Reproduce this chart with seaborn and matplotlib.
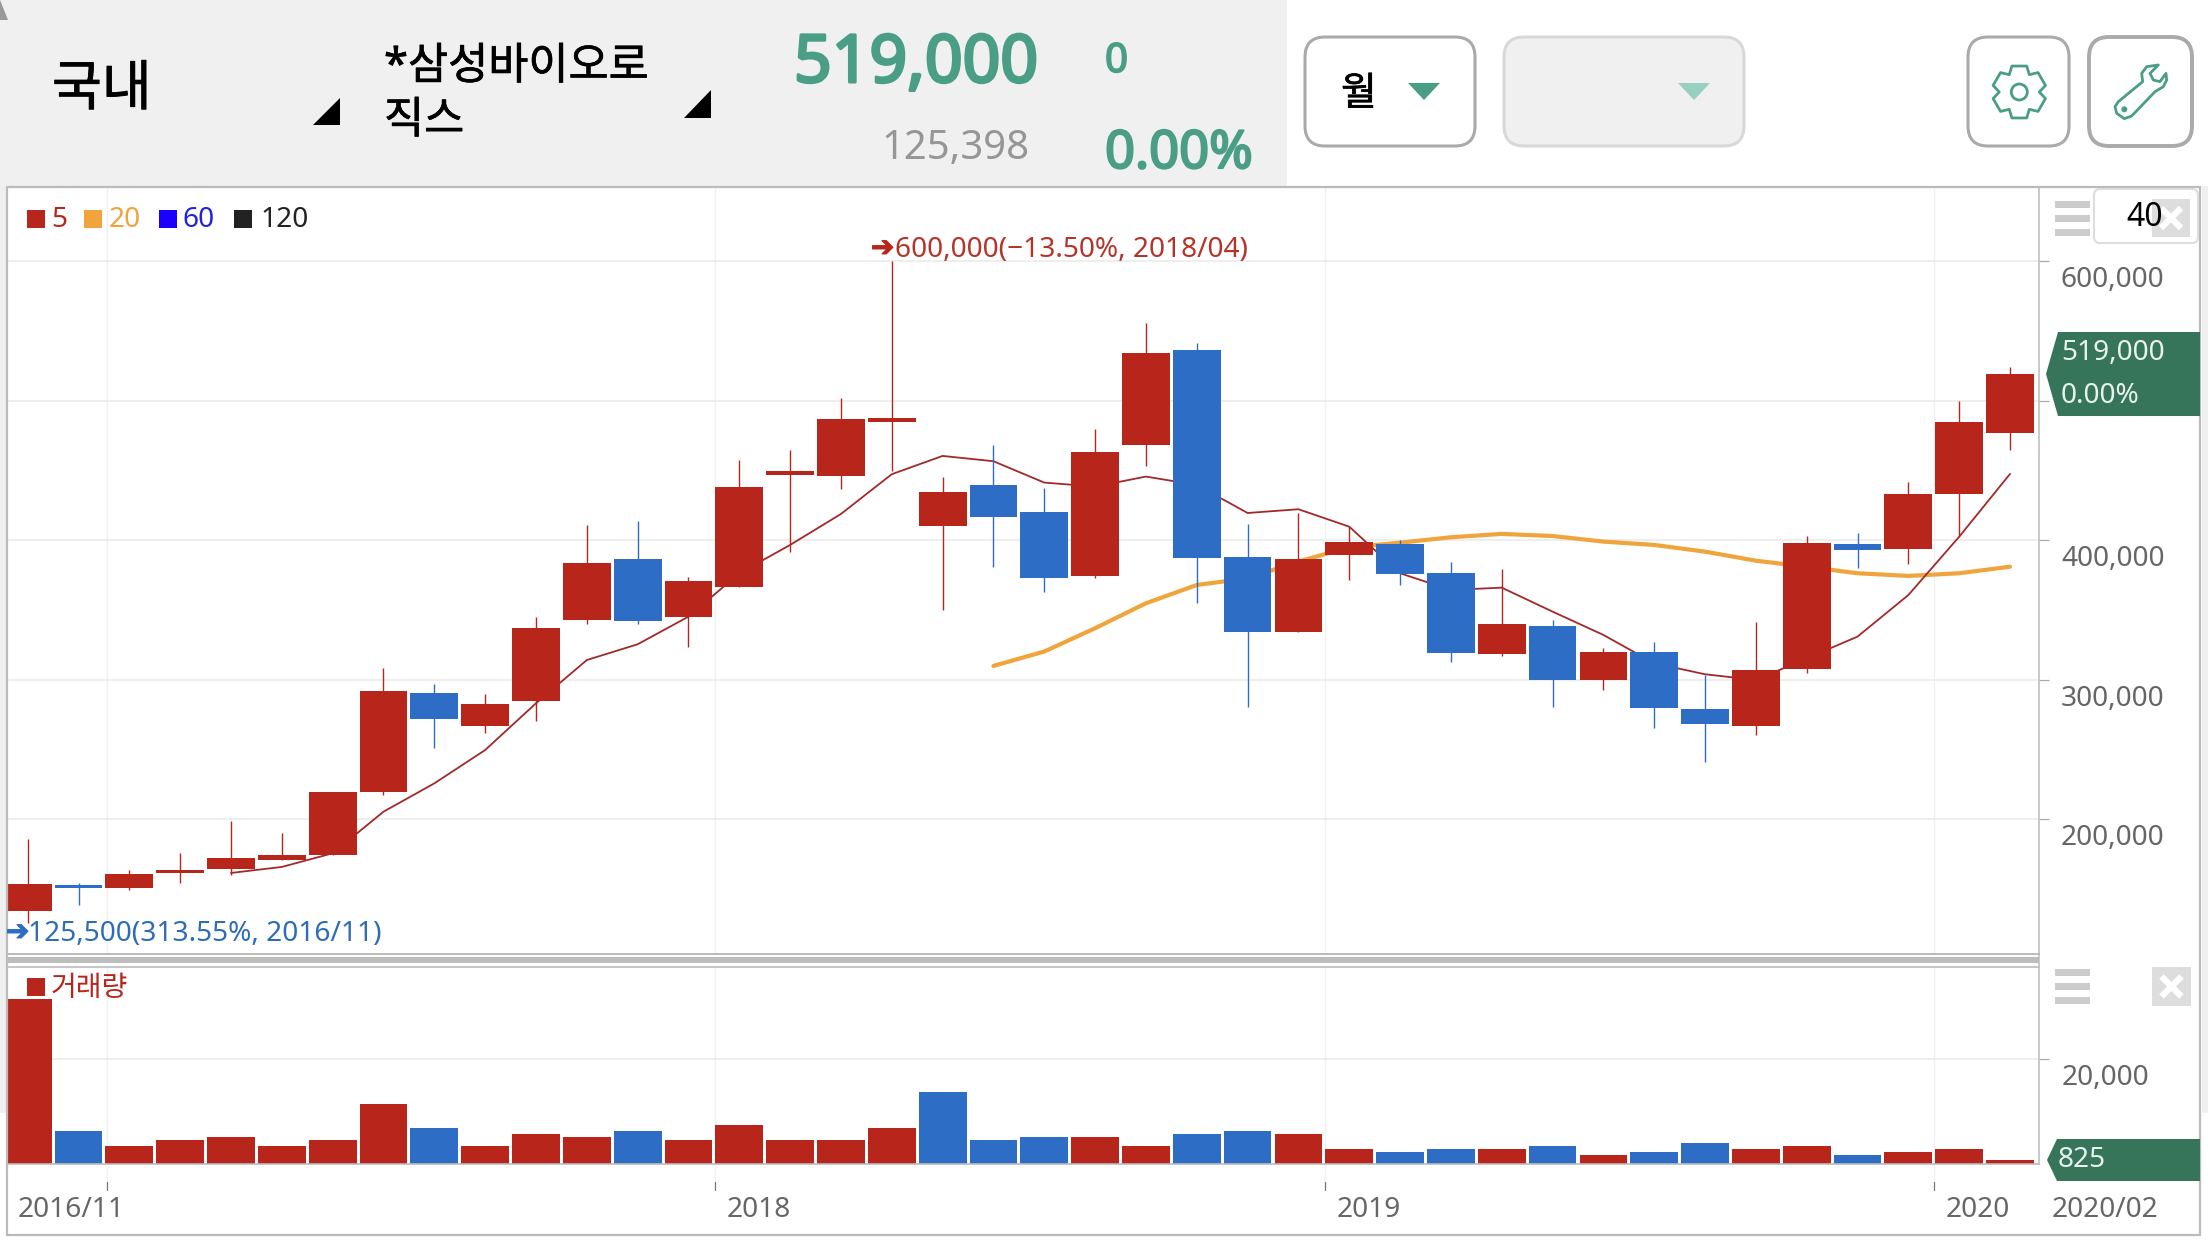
import math

import matplotlib
matplotlib.use("Agg")
import matplotlib.patheffects as pe
import matplotlib.pyplot as plt
import pandas as pd
import seaborn as sns
from matplotlib.patches import FancyBboxPatch, Polygon, Rectangle, Circle

# monthly candles, 2016/11 .. 2020/02
candle_open = [134600, 153000, 150800, 161600, 164400, 170900, 174700, 219600, 290600, 266900,
               284800, 342900, 386600, 345000, 366800, 446900, 446400, 484900, 410600, 439700,
               420400, 374500, 468400, 536500, 388100, 334400, 389500, 397400, 376600, 318500,
               338600, 299900, 320000, 279100, 267000, 307800, 397400, 393800, 433200, 476900]
candle_close = [153700, 150800, 160900, 163700, 172300, 174200, 219600, 292000, 271900, 282700,
                337200, 383700, 342200, 370800, 438300, 449700, 487000, 487700, 434700, 417000,
                373100, 463400, 534300, 387400, 334400, 386700, 398900, 375900, 319300, 340100,
                299900, 320000, 279900, 268400, 307100, 398100, 393100, 433200, 484800, 519000]
candle_high = [185700, 154200, 163700, 175700, 198600, 190200, 219600, 308300, 297000, 289900,
               345000, 411000, 413800, 373500, 457600, 464800, 501800, 600000, 445400, 468400,
               437600, 479800, 555800, 541500, 411800, 419600, 409800, 400000, 384500, 379500,
               342900, 322800, 327100, 303500, 341500, 403100, 405300, 441800, 499900, 524200]
candle_low = [125500, 138600, 149400, 154600, 160100, 170900, 174700, 217500, 251200, 261900,
              270500, 340000, 340000, 323500, 366800, 391700, 436800, 449700, 350100, 381000,
              363000, 373100, 453300, 355100, 280500, 334400, 371600, 368000, 312800, 317100,
              280600, 292800, 265500, 241100, 260500, 304900, 380200, 383100, 403100, 464800]

ma5_start = 4
ma5 = [161600, 165900, 175700, 205500, 225800, 249700, 283200, 314200, 325500, 345300,
       376400, 396700, 418900, 447400, 460500, 456700, 441400, 438500, 445700, 439700,
       419600, 422300, 409800, 376400, 364400, 366100, 348900, 332200, 311900, 304000,
       299900, 315400, 331000, 360800, 402600, 447600]
ma20_start = 19
ma20 = [310000, 320300, 337000, 354900, 368000, 372800, 384800, 395000, 398300, 402200,
        404600, 403100, 399100, 396700, 391900, 385400, 381100, 376400, 374500, 376400, 381100]

volume = [31500, 6300, 3440, 4580, 5160, 3440, 4580, 11460, 6880, 3440,
          5730, 5160, 6300, 4580, 7450, 4580, 4580, 6880, 13750, 4580,
          5160, 5160, 3440, 5730, 6300, 5730, 2870, 2290, 2870, 2870,
          3440, 1720, 2290, 4010, 2870, 3440, 1720, 2290, 2870, 825]
volume_dir = ["up", "down", "up", "up", "up", "up", "up", "up", "down", "up",
              "up", "up", "down", "up", "up", "up", "up", "up", "down", "down",
              "down", "up", "up", "down", "down", "up", "up", "down", "down", "up",
              "down", "up", "down", "down", "up", "up", "down", "up", "up", "up"]

price_ticks = [200000, 300000, 400000, 500000, 600000]
price_labels = ["200,000", "300,000", "400,000", None, "600,000"]
date_ticks = [1.57, 13.52, 25.52, 37.5]
date_labels = [None, "2018", "2019", "2020"]

RED = "#b8261b"
BLUE = "#2e6dc6"
ORANGE = "#efa43c"
MA5_COLOR = "#a3282a"
TEAL = "#4a9e86"
TAG = "#36755a"
AXIS_TEXT = "#666666"
LINE = "#bbbbbb"
GRID = "#e9e9e9"
PX = 0.72  # points per pixel at dpi 100
TEXT_PT = 20.2
BAR_WIDTH = 0.94

W, H = 2208, 1242
sns.set_theme(style="white")
plt.rcParams["font.family"] = ["Noto Sans", "Noto Sans CJK KR", "DejaVu Sans"]

fig = plt.figure(figsize=(W / 100, H / 100), dpi=100, facecolor="white")


def pixel_axes(left, top, right, bottom):
    return fig.add_axes([left / W, 1 - bottom / H, (right - left) / W, (bottom - top) / H])


price_ax = pixel_axes(7, 187, 2039, 954)
vol_ax = pixel_axes(7, 967, 2039, 1164)
xmin, xmax = -0.407, 39.57

# --- price panel ---
idx = list(range(len(candle_open)))
ma5_df = pd.DataFrame({"x": idx[ma5_start:], "y": ma5})
ma20_df = pd.DataFrame({"x": idx[ma20_start:], "y": ma20})
sns.lineplot(data=ma20_df, x="x", y="y", color=ORANGE, lw=3.0, ax=price_ax, zorder=2)
sns.lineplot(data=ma5_df, x="x", y="y", color=MA5_COLOR, lw=1.3, ax=price_ax, zorder=2.1)

candle_colors = [RED if c >= o else BLUE for o, c in zip(candle_open, candle_close)]
price_ax.vlines(idx, candle_low, candle_high, colors=candle_colors, lw=1.0, zorder=3)
# seaborn's style forces white patch edges, so switch them off on the bars
price_ax.bar(idx, [abs(c - o) for o, c in zip(candle_open, candle_close)],
             bottom=[min(o, c) for o, c in zip(candle_open, candle_close)],
             width=BAR_WIDTH, color=candle_colors, edgecolor="none", linewidth=0, zorder=3.1)

price_ax.set_xlim(xmin, xmax)
price_ax.set_ylim(103500, 653260)
price_ax.set_yticks(price_ticks)
price_ax.set_xlabel("")
price_ax.set_ylabel("")

# --- volume panel ---
vol_df = pd.DataFrame({"x": idx, "volume": volume, "dir": volume_dir})
sns.barplot(data=vol_df, x="x", y="volume", hue="dir", palette={"up": RED, "down": BLUE},
            dodge=False, native_scale=True, width=BAR_WIDTH, saturation=1, legend=False,
            edgecolor="none", linewidth=0, ax=vol_ax)
vol_ax.set_xlim(xmin, xmax)
vol_ax.set_ylim(0, 37630)
vol_ax.set_yticks([20000])
vol_ax.set_xlabel("")
vol_ax.set_ylabel("")

for ax in (price_ax, vol_ax):
    ax.set_xticks(date_ticks)
    ax.set_axisbelow(True)
    ax.grid(True, axis="y", color=GRID, lw=1.1)
    ax.grid(True, axis="x", color="#f1f1f1", lw=1.0)
    ax.yaxis.tick_right()
    ax.tick_params(axis="x", length=0, labelbottom=False)
    ax.tick_params(axis="y", length=10 * PX, width=0.9, color="#aaaaaa", labelright=False)
    for spine in ax.spines.values():
        spine.set_visible(False)
    ax.spines["bottom"].set_visible(True)
    ax.spines["bottom"].set_color(LINE)
    ax.spines["bottom"].set_linewidth(1.2)

for value, label in zip(price_ticks, price_labels):
    if label:
        price_ax.annotate(label, xy=(1, value), xycoords=price_ax.get_yaxis_transform(),
                          xytext=(22 * PX, -26 * PX), textcoords="offset points",
                          fontsize=TEXT_PT, color=AXIS_TEXT, va="baseline")
vol_ax.annotate("20,000", xy=(1, 20000), xycoords=vol_ax.get_yaxis_transform(),
                xytext=(23 * PX, -26 * PX), textcoords="offset points",
                fontsize=TEXT_PT, color=AXIS_TEXT, va="baseline")

# date ticks sit below the volume panel, detached from the axis
trans = vol_ax.get_xaxis_transform()
for tick, label in zip(date_ticks, date_labels):
    vol_ax.plot([tick, tick], [0, -18 / 197], transform=trans, color="#f1f1f1", lw=1.0, clip_on=False)
    vol_ax.plot([tick, tick], [-18 / 197, -26 / 197], transform=trans, color="#777777", lw=0.9, clip_on=False)
    if label:
        vol_ax.annotate(label, xy=(tick, 0), xycoords=trans, xytext=(12 * PX, -53 * PX),
                        textcoords="offset points", fontsize=TEXT_PT, color=AXIS_TEXT, va="baseline")
vol_ax.annotate("2016/11", xy=(0, 0), xycoords="axes fraction", xytext=(11 * PX, -53 * PX),
                textcoords="offset points", fontsize=TEXT_PT, color=AXIS_TEXT, va="baseline")

# --- app chrome drawn on a full-figure pixel layer ---
ui = fig.add_axes([0, 0, 1, 1], zorder=5)
ui.set_xlim(0, W)
ui.set_ylim(H, 0)
ui.axis("off")


def put(x, y, s, size, color, heavy=0, **kw):
    t = ui.text(x, y, s, fontsize=size, color=color, va="baseline", **kw)
    if heavy:
        # no bold face is reliably installed, thicken the glyphs instead
        t.set_path_effects([pe.withStroke(linewidth=heavy, foreground=color)])
    return t


def rect(x0, y0, x1, y1, color, **kw):
    ui.add_patch(Rectangle((x0, y0), x1 - x0, y1 - y0, facecolor=color, edgecolor="none", linewidth=0, **kw))


def button(x0, x1, face, edge, lw=2.2):
    ui.add_patch(FancyBboxPatch((x0, 37), x1 - x0, 109, boxstyle="round,pad=0,rounding_size=20",
                                facecolor=face, edgecolor=edge, lw=lw))


def hamburger(y0):
    for k in range(3):
        rect(2055, y0 + 14 * k, 2090, y0 + 14 * k + 7, "#cccccc")


def close_box(x0, y0, x1, y1):
    rect(x0, y0, x1, y1, "#dddddd")
    cx, cy = (x0 + x1) / 2, (y0 + y1) / 2
    for sign in (1, -1):
        ui.plot([cx - 10, cx + 10], [cy - 10 * sign, cy + 10 * sign], color="white", lw=4.5, solid_capstyle="butt")


# header
rect(0, 0, 1287, 186, "#f0f0f0")
ui.add_patch(Polygon([(0, 0), (8, 20), (0, 20)], facecolor="#999999", edgecolor="none"))
rect(0, 186, 6, 1113, "#f0f0f0")
rect(2202, 186, W, 1113, "#f0f0f0")
put(52, 105, "국내", 39, "black", heavy=0.6)
ui.add_patch(Polygon([(313, 125), (340, 125), (340, 98)], facecolor="black", edgecolor="none"))
put(384, 79, "*삼성바이오로", 31.4, "black", heavy=0.5)
put(384, 133, "직스", 31.4, "black", heavy=0.5)
ui.add_patch(Polygon([(684, 118), (711, 118), (711, 90)], facecolor="black", edgecolor="none"))
put(794, 82, "519,000", 47.5, TEAL, heavy=2.2)
put(1105, 72, "0", 29, TEAL, heavy=1.2)
put(881, 159, "125,398", 28.8, "#969696")
put(1105, 168, "0.00%", 37.8, TEAL, heavy=1.6)

button(1305, 1475, "white", "#aaaaaa")
put(1341, 105, "월", 28, "black", heavy=0.5)
ui.add_patch(Polygon([(1408, 83), (1440, 83), (1424, 100)], facecolor=TEAL, edgecolor="none"))
button(1504, 1744, "#f0f0f0", "#d8d8d8")
ui.add_patch(Polygon([(1678, 83), (1710, 83), (1694, 100)], facecolor="#97d0c0", edgecolor="none"))
button(1968, 2069, "white", "#aaaaaa")
button(2089, 2192, "white", "#aaaaaa", lw=2.8)

# gear icon
gear = []
for tooth in range(6):
    a = 90 + 60 * tooth
    for offset, r in ((-30, 20), (-16, 27), (16, 27)):
        gear.append((2019.3 + r * math.cos(math.radians(a + offset)), 92 - r * math.sin(math.radians(a + offset))))
ui.add_patch(Polygon(gear, closed=True, fill=False, edgecolor=TEAL, lw=2, joinstyle="round"))
ui.add_patch(Circle((2019.3, 92), 8, fill=False, edgecolor=TEAL, lw=2))

# wrench icon
wrench = [(548, 155), (545, 130), (560, 110), (595, 105), (570, 130), (580, 150), (600, 155), (618, 130),
          (620, 150), (610, 170), (585, 185), (515, 258), (493, 266), (470, 250), (465, 230), (475, 215)]
ui.add_patch(Polygon([(1960 + zx / 3, 30 + zy / 3) for zx, zy in wrench], closed=True, fill=False,
                     edgecolor=TEAL, lw=2, joinstyle="round"))
ui.add_patch(Circle((1960 + 493 / 3, 30 + 238 / 3), 3, facecolor=TEAL, edgecolor="none"))

# chart frame and panel separator
ui.add_patch(Rectangle((7, 187), 2193, 1048, fill=False, edgecolor=LINE, lw=1.6))
ui.plot([2039, 2039], [187, 1164], color=LINE, lw=1.1)
ui.plot([7, 2039], [954, 954], color=LINE, lw=1.2)
rect(7, 957, 2039, 963, "#bdbdbd")
ui.plot([7, 2039], [966.5, 966.5], color=LINE, lw=1.2)

# moving average legend
for x0, swatch, tx, label, text_color in (
    (27, RED, 51, "5", RED),
    (84, ORANGE, 109, "20", ORANGE),
    (159, "#1a00ff", 183, "60", "#2222dd"),
    (234, "#222222", 260, "120", "#222222"),
):
    rect(x0, 210, x0 + 18, 228, swatch)
    put(tx, 227, label, TEXT_PT, text_color)

# extreme value notes
put(871, 256, "➔", 20, RED, heavy=0.8, family="DejaVu Sans")
put(895, 257, "600,000(−13.50%, 2018/04)", TEXT_PT, "#b5342a")
put(6, 940, "➔", 20, BLUE, heavy=0.8, family="DejaVu Sans")
put(28, 941, "125,500(313.55%, 2016/11)", TEXT_PT, "#2e6db5")

# panel controls
hamburger(201)
ui.add_patch(FancyBboxPatch((2094, 189), 104, 54, boxstyle="round,pad=0,rounding_size=6",
                            facecolor="white", edgecolor="#dddddd", lw=1.5))
close_box(2152, 199, 2190, 237)
put(2126, 226, "40", 23, "black")
hamburger(969)
close_box(2152, 967, 2191, 1006)

rect(27, 978, 45, 996, RED)
put(51, 996, "거래량", 20.2, RED)

# last value tags
ui.add_patch(Polygon([(2046, 374), (2058, 332), (2200, 332), (2200, 416), (2058, 416)], facecolor=TAG, edgecolor="none"))
put(2061, 360, "519,000", TEXT_PT, "#e8f2ee")
put(2061, 403, "0.00%", TEXT_PT, "#e8f2ee")
ui.add_patch(Polygon([(2047, 1160), (2057, 1139), (2200, 1139), (2200, 1181), (2057, 1181)], facecolor=TAG, edgecolor="none"))
put(2058, 1167, "825", TEXT_PT, "#e8f2ee")
put(2052, 1217, "2020/02", TEXT_PT, AXIS_TEXT)

fig.savefig("out.png", dpi=100)
